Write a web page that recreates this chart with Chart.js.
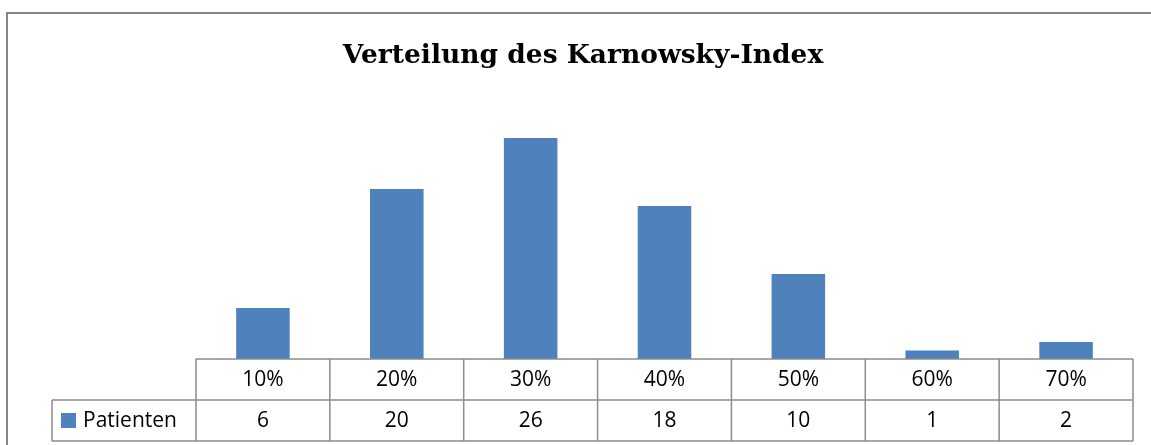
<!DOCTYPE html>
<html>
<head>
<meta charset="utf-8">
<script src="https://cdn.jsdelivr.net/npm/chart.js@4"></script>
<style>
  html, body { margin: 0; padding: 0; background: #fff; }
  #wrap { width: 1151px; height: 445px; position: relative; }
</style>
</head>
<body>
<div id="wrap"><canvas id="canvas"></canvas></div>
<script>
const categories = ['10%', '20%', '30%', '40%', '50%', '60%', '70%'];
const seriesName = 'Patienten';
const patienten = [6, 20, 26, 18, 10, 1, 2];
const titleText = 'Verteilung des Karnowsky-Index';

const barColor = '#4F81BD';
const lineColor = '#8c8c8c';
const tableFont = '21px "Open Sans"';

// frame, title and data table under the plot
const tablePlugin = {
    id: 'dataTable',
    beforeDraw(chart) {
        const c = chart.ctx;
        c.save();
        c.fillStyle = '#fff';
        c.fillRect(0, 0, chart.width, chart.height);
        c.strokeStyle = '#868686';
        c.lineWidth = 2;
        c.strokeRect(7, 13, chart.width + 20, chart.height + 20);
        c.restore();
    },
    afterDraw(chart) {
        const c = chart.ctx;
        const x = chart.scales.x;
        const area = chart.chartArea;
        const rowH = 41;
        const top = area.bottom;
        const mid = top + rowH;
        const bot = mid + rowH;
        const half = (x.getPixelForValue(1) - x.getPixelForValue(0)) / 2;
        const left = x.getPixelForValue(0) - half;
        const right = x.getPixelForValue(categories.length - 1) + half;
        const legendLeft = 52;

        c.save();
        c.fillStyle = '#000';
        c.font = 'bold 26.5px "DejaVu Serif"';
        c.textAlign = 'center';
        c.textBaseline = 'alphabetic';
        c.fillText(titleText, 583, 63);

        c.strokeStyle = lineColor;
        c.lineWidth = 1.5;
        c.beginPath();
        c.moveTo(left, top); c.lineTo(right, top);
        c.moveTo(legendLeft, mid); c.lineTo(right, mid);
        c.moveTo(legendLeft, bot); c.lineTo(right, bot);
        c.moveTo(legendLeft, mid); c.lineTo(legendLeft, bot);
        for (let i = 0; i <= categories.length; i++) {
            const px = x.getPixelForValue(i) - half;
            c.moveTo(px, top); c.lineTo(px, bot);
        }
        c.stroke();

        c.font = tableFont;
        c.textBaseline = 'middle';
        categories.forEach((cat, i) => {
            const px = x.getPixelForValue(i);
            c.fillText(cat, px, top + rowH / 2 + 1);
            c.fillText(String(patienten[i]), px, mid + rowH / 2 + 1);
        });

        c.fillStyle = barColor;
        c.fillRect(61, mid + 13, 15, 15);
        c.fillStyle = '#000';
        c.textAlign = 'left';
        c.fillText(seriesName, 83, mid + rowH / 2 + 1);
        c.restore();
    }
};

new Chart(document.getElementById('canvas'), {
    type: 'bar',
    data: {
        labels: categories,
        datasets: [{
            label: seriesName,
            data: patienten,
            backgroundColor: barColor,
            barPercentage: 0.4,
            categoryPercentage: 1.0
        }]
    },
    options: {
        responsive: true,
        maintainAspectRatio: false,
        animation: false,
        layout: { padding: { left: 196, right: 18, top: 104, bottom: 86 } },
        plugins: {
            legend: { display: false },
            tooltip: { enabled: false },
            title: { display: false }
        },
        scales: {
            x: { display: false, grid: { display: false } },
            y: { display: false, min: 0, max: 30 }
        }
    },
    plugins: [tablePlugin]
});
</script>
</body>
</html>
